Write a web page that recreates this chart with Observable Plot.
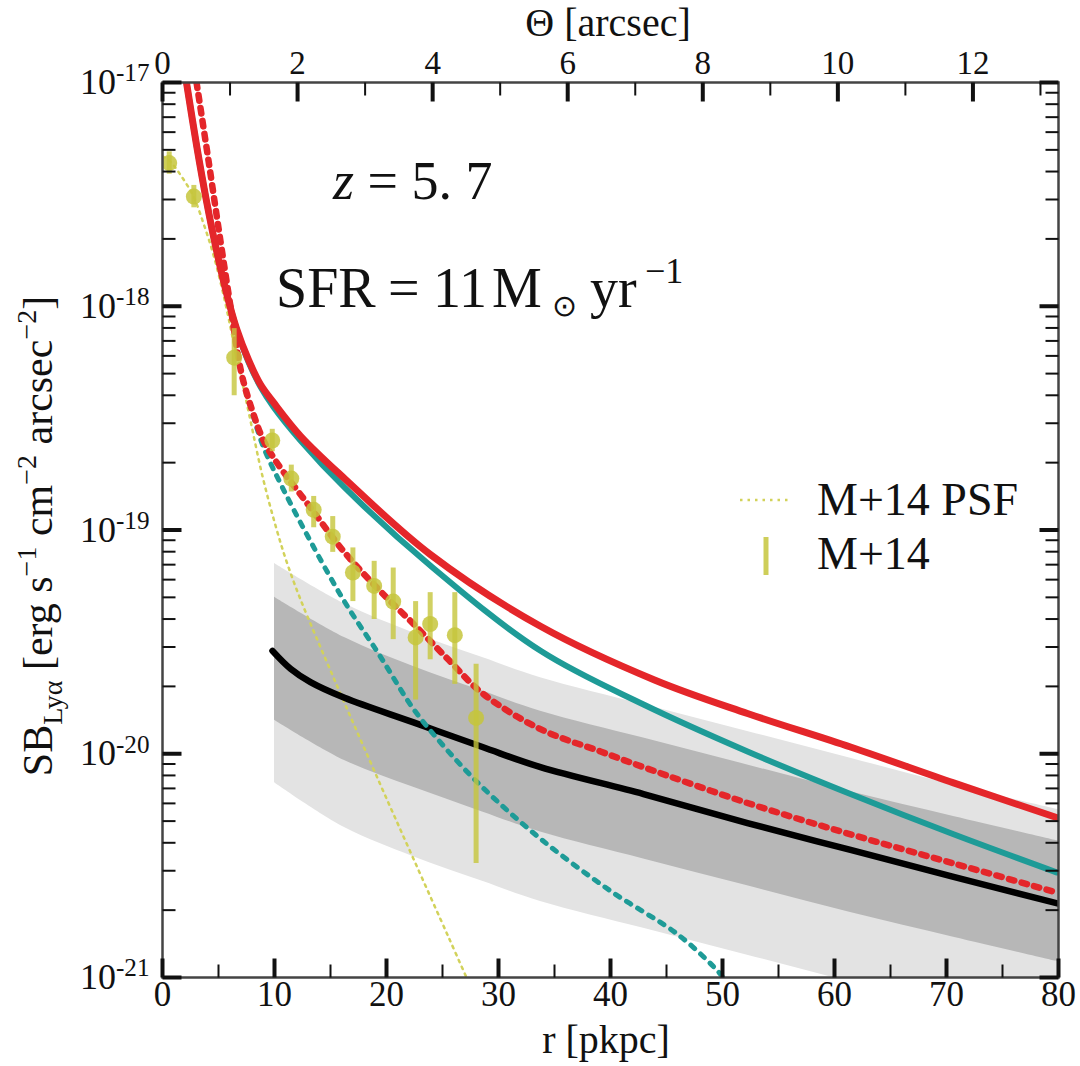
<!DOCTYPE html>
<html>
<head>
<meta charset="utf-8">
<script src="https://cdn.jsdelivr.net/npm/d3@7"></script>
<script src="https://cdn.jsdelivr.net/npm/@observablehq/plot@0.6"></script>
<style>
  html, body { margin: 0; padding: 0; background: #fff; }
  svg { display: block; }
</style>
</head>
<body>
<div id="chart"></div>
<script>
// ---------- scales / ticks ----------
const xDomain = [0, 80];
const yDomain = [1e-21, 1e-17];
const kpcPerArcsec = 6.03;
const xMajor = [0, 10, 20, 30, 40, 50, 60, 70, 80];
const xMinor = [5, 15, 25, 35, 45, 55, 65, 75];
const thetaMajor = [0, 2, 4, 6, 8, 10, 12];
const thetaMinor = [1, 3, 5, 7, 9, 11, 13];
const yMajorExp = [-21, -20, -19, -18, -17];
const yMinorMult = [2, 3, 4, 5, 6, 7, 8, 9];

// ---------- model curves (r in pkpc, log10 SB) ----------
const redSolidR   = [2.14, 3.04, 3.93, 4.82, 5.71, 6.61, 7.68, 8.75, 9.91, 12.32, 16.25, 23.93, 33.75, 43.93, 52.23, 61.43, 70.63, 79.82];
const redSolidLog = [-17.0, -17.28, -17.53, -17.75, -17.94, -18.10, -18.24, -18.35, -18.43, -18.58, -18.77, -19.11, -19.43, -19.67, -19.82, -19.97, -20.13, -20.285];

const tealSolidR   = [2.14, 3.04, 3.93, 4.82, 5.71, 6.61, 7.68, 8.75, 9.91, 12.32, 16.25, 23.93, 33.75, 42.95, 52.23, 61.43, 70.63, 79.82];
const tealSolidLog = [-17.0, -17.28, -17.53, -17.75, -17.94, -18.10, -18.25, -18.36, -18.45, -18.60, -18.81, -19.16, -19.54, -19.78, -19.99, -20.18, -20.36, -20.53];

const redDotR   = [3.04, 4.11, 5.18, 6.07, 7.05, 8.04, 9.02, 10.09, 13.21, 16.25, 19.38, 22.41, 25.54, 28.57, 33.75, 39.11, 42.95, 52.23, 61.43, 70.63, 79.82];
const redDotLog = [-17.0, -17.35, -17.71, -18.00, -18.30, -18.47, -18.60, -18.69, -18.90, -19.10, -19.27, -19.42, -19.58, -19.73, -19.89, -19.99, -20.06, -20.22, -20.36, -20.49, -20.62];

const tealDotR   = [3.04, 4.11, 5.18, 6.07, 7.05, 8.04, 9.02, 10.71, 13.21, 16.25, 19.38, 22.41, 25.18, 28.57, 33.75, 39.91, 46.07, 49.73, 50.3];
const tealDotLog = [-17.0, -17.35, -17.71, -18.00, -18.30, -18.48, -18.63, -18.81, -19.05, -19.32, -19.56, -19.80, -19.97, -20.15, -20.38, -20.61, -20.81, -20.98, -21.02];

const psfR   = [0.0, 0.63, 1.70, 2.77, 3.66, 4.55, 5.45, 6.43, 7.68, 8.93, 10.09, 11.07, 12.32, 15.36, 19.38, 22.41, 25.54, 27.23];
const psfLog = [-17.33, -17.35, -17.42, -17.51, -17.63, -17.77, -17.95, -18.18, -18.47, -18.76, -18.98, -19.14, -19.31, -19.67, -20.13, -20.47, -20.82, -21.01];

// black line
const blackR   = [9.82, 11.43, 13.21, 16.25, 22.41, 28.57, 33.75, 42.95, 52.23, 61.43, 70.63, 80.0];
const blackLog = [-19.54, -19.62, -19.68, -19.75, -19.86, -19.97, -20.06, -20.18, -20.31, -20.43, -20.55, -20.67];

// shaded bands (dark = inner, light = outer)
const bandR      = [10.0, 16.25, 22.41, 28.57, 33.75, 42.95, 52.23, 61.43, 70.63, 80.0];
const lightHiLog = [-19.15, -19.33, -19.46, -19.57, -19.66, -19.78, -19.90, -20.02, -20.14, -20.25];
const darkHiLog  = [-19.30, -19.48, -19.61, -19.72, -19.81, -19.93, -20.05, -20.17, -20.28, -20.39];
const darkLoLog  = [-19.85, -20.03, -20.15, -20.26, -20.35, -20.47, -20.59, -20.71, -20.82, -20.93];
const lightLoLog = [-20.13, -20.33, -20.46, -20.57, -20.66, -20.78, -20.90, -21.02, -21.13, -21.25];

// M+14 data points
const m14R     = [0.6, 2.8, 6.4, 9.8, 11.5, 13.5, 15.2, 17.0, 18.9, 20.6, 22.6, 23.9, 26.1, 28.0];
const m14Log   = [-17.36, -17.51, -18.23, -18.60, -18.77, -18.91, -19.03, -19.19, -19.25, -19.32, -19.48, -19.42, -19.47, -19.84];
const m14LoLog = [-17.41, -17.56, -18.40, -18.65, -18.83, -18.99, -19.10, -19.32, -19.40, -19.49, -19.76, -19.58, -19.69, -20.49];
const m14HiLog = [-17.31, -17.46, -18.10, -18.55, -18.71, -18.85, -18.94, -19.08, -19.14, -19.17, -19.32, -19.28, -19.28, -19.60];

// ---------- build tables ----------
const rows = (rs, ls) => rs.map((r, i) => ({r, sb: 10 ** ls[i]}));
const redSolid = rows(redSolidR, redSolidLog);
const tealSolid = rows(tealSolidR, tealSolidLog);
const redDot = rows(redDotR, redDotLog);
const tealDot = rows(tealDotR, tealDotLog);
const psf = rows(psfR, psfLog);
const black = rows(blackR, blackLog);
const bands = bandR.map((r, i) => ({
  r, lightHi: 10 ** lightHiLog[i], lightLo: 10 ** lightLoLog[i],
  darkHi: 10 ** darkHiLog[i], darkLo: 10 ** darkLoLog[i]
}));
const m14 = m14R.map((r, i) => ({r, sb: 10 ** m14Log[i], lo: 10 ** m14LoLog[i], hi: 10 ** m14HiLog[i]}));

const yMajorVals = yMajorExp.map(e => 10 ** e);
const yMinorVals = yMajorExp.slice(0, -1).flatMap(e => yMinorMult.map(m => m * 10 ** e));
const thetaMajorR = thetaMajor.map(t => t * kpcPerArcsec);
const thetaMinorR = thetaMinor.map(t => t * kpcPerArcsec);

// ---------- colours ----------
const RED = "#e4262a", TEAL = "#1e9b97", YEL = "#c6c63c", PSFC = "#d2d25a";
const CURVE = "catmull-rom";

const tickShape = {draw(context, l) { context.moveTo(0, 0); context.lineTo(0, -l); }};
const tk = (data, pos, len, rot, w) => Plot.vector(data, {
  ...pos, length: len, rotate: rot, anchor: "start", shape: tickShape,
  stroke: "#111", strokeWidth: w, strokeLinecap: "butt"
});
const atLeft = {x: () => xDomain[0], y: d => d};
const atRight = {x: () => xDomain[1], y: d => d};
const atBottom = {x: d => d, y: () => yDomain[0]};
const atTop = {x: d => d, y: () => yDomain[1]};

const chart = Plot.plot({
  width: 1080,
  height: 1066,
  marginLeft: 162,
  marginRight: 22,
  marginTop: 82,
  marginBottom: 89,
  style: {fontFamily: "'Liberation Serif', serif", fontSize: "34px", background: "#fff", color: "#111"},
  x: {domain: xDomain},
  y: {type: "log", domain: yDomain},
  marks: [
    Plot.areaY(bands, {x: "r", y1: "lightLo", y2: "lightHi", fill: "#e3e3e3", curve: CURVE, clip: true}),
    Plot.areaY(bands, {x: "r", y1: "darkLo", y2: "darkHi", fill: "#b7b7b7", curve: CURVE, clip: true}),
    Plot.line(psf, {x: "r", y: "sb", stroke: PSFC, strokeWidth: 2.5, strokeDasharray: "2.5 5", curve: CURVE, clip: true}),
    Plot.line(black, {x: "r", y: "sb", stroke: "#000", strokeWidth: 6.5, curve: CURVE, clip: true}),
    Plot.line(tealDot, {x: "r", y: "sb", stroke: TEAL, strokeWidth: 5, strokeDasharray: "5 8", curve: CURVE, clip: true}),
    Plot.line(redDot, {x: "r", y: "sb", stroke: RED, strokeWidth: 6.5, strokeDasharray: "5.5 7.5", curve: CURVE, clip: true}),
    Plot.line(tealSolid, {x: "r", y: "sb", stroke: TEAL, strokeWidth: 6, curve: CURVE, clip: true}),
    Plot.line(redSolid, {x: "r", y: "sb", stroke: RED, strokeWidth: 7, curve: CURVE, clip: true}),
    Plot.ruleX(m14, {x: "r", y1: "lo", y2: "hi", stroke: YEL, strokeWidth: 5, strokeOpacity: 0.8, clip: true}),
    Plot.dot(m14, {x: "r", y: "sb", r: 8, fill: YEL, fillOpacity: 0.85, stroke: "none", clip: true}),
    Plot.frame({stroke: "#444", strokeWidth: 2.5}),
    // ticks (inward)
    tk(yMajorVals, atLeft, 19, 90, 4),
    tk(yMinorVals, atLeft, 13, 90, 2),
    tk(yMajorVals, atRight, 19, -90, 4),
    tk(yMinorVals, atRight, 13, -90, 2),
    tk(xMajor, atBottom, 19, 0, 4),
    tk(xMinor, atBottom, 13, 0, 2),
    tk(thetaMajorR, atTop, 19, 180, 4),
    tk(thetaMinorR, atTop, 13, 180, 2),
    // tick labels
    Plot.axisX({anchor: "bottom", ticks: xMajor, tickSize: 0, tickPadding: 4, label: null, fontSize: 35, tickFormat: d => String(d)}),
    Plot.axisX({anchor: "top", ticks: thetaMajorR, tickSize: 0, tickPadding: 9, label: null, fontSize: 33,
      tickFormat: d => String(Math.round(d / kpcPerArcsec))}),
    Plot.axisY({anchor: "left", ticks: yMajorVals, tickSize: 0, tickPadding: 13, label: null, fontSize: 36,
      tickFormat: d => "10^-" + String(Math.round(-Math.log10(d)))})
  ]
});

document.getElementById("chart").appendChild(chart);
const svg = d3.select(chart);

// superscript exponents on y tick labels
svg.selectAll('g[aria-label="y-axis tick label"] text').each(function() {
  const [base, exp] = this.textContent.split("^");
  const t = d3.select(this);
  t.text(base);
  t.append("tspan").attr("dy", "-0.5em").attr("font-size", "0.7em").text(exp);
});

const FONT = "'Liberation Serif', serif";
const g = svg.append("g").attr("font-family", FONT).attr("fill", "#111").attr("text-anchor", "start");

// axis titles
g.append("text").attr("x", 606).attr("y", 1053).attr("text-anchor", "middle").attr("font-size", 40).text("r [pkpc]");
g.append("text").attr("x", 608).attr("y", 36).attr("text-anchor", "middle").attr("font-size", 40).text("Θ [arcsec]");
const yl = g.append("text").attr("transform", "translate(52,536) rotate(-90)").attr("text-anchor", "middle").attr("font-size", 42);
yl.append("tspan").text("SB");
yl.append("tspan").attr("dy", 10).attr("font-size", 28).text("Lyα");
yl.append("tspan").attr("dy", -10).text(" [erg s");
yl.append("tspan").attr("dy", -16).attr("font-size", 28).text("−1");
yl.append("tspan").attr("dy", 16).text(" cm");
yl.append("tspan").attr("dy", -16).attr("font-size", 28).text("−2");
yl.append("tspan").attr("dy", 16).text(" arcsec");
yl.append("tspan").attr("dy", -16).attr("font-size", 28).text("−2");
yl.append("tspan").attr("dy", 16).text("]");

// annotations
const zt = g.append("text").attr("x", 333).attr("y", 199).attr("font-size", 54);
zt.append("tspan").attr("font-style", "italic").text("z");
zt.append("tspan").text(" = 5. 7");

const st = g.append("text").attr("y", 307).attr("font-size", 56);
st.append("tspan").attr("x", 276).text("SFR");
st.append("tspan").attr("x", 388).text("=");
st.append("tspan").attr("x", 433).text("11");
st.append("tspan").attr("x", 492).text("M");
st.append("tspan").attr("x", 552).attr("dy", 9).attr("font-size", 30).text("⊙");
st.append("tspan").attr("x", 590).attr("dy", -9).text("yr");
st.append("tspan").attr("x", 645).attr("dy", -24).attr("font-size", 36).text("−1");

// legend
g.append("line").attr("x1", 740).attr("x2", 788).attr("y1", 500).attr("y2", 500)
  .attr("stroke", PSFC).attr("stroke-width", 2.5).attr("stroke-dasharray", "2.5 5");
g.append("text").attr("x", 817).attr("y", 515).attr("font-size", 46).text("M+14 PSF");
g.append("line").attr("x1", 766).attr("x2", 766).attr("y1", 537).attr("y2", 575)
  .attr("stroke", YEL).attr("stroke-width", 5).attr("stroke-opacity", 0.85);
g.append("text").attr("x", 817).attr("y", 569).attr("font-size", 46).text("M+14");
</script>
</body>
</html>
